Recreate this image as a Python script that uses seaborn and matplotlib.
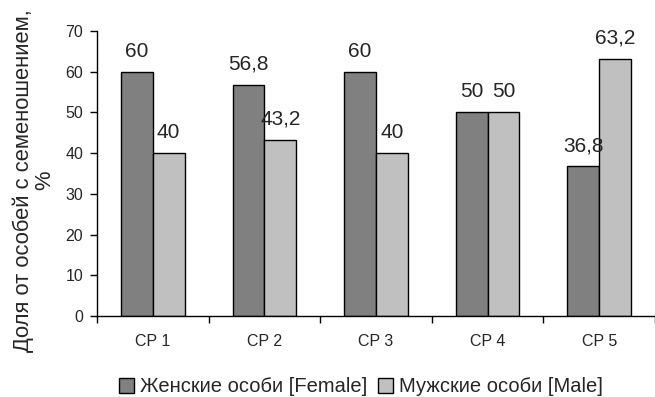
import pandas as pd
import seaborn as sns
import matplotlib.pyplot as plt
from matplotlib.ticker import FixedLocator

# data
plots = ['CP 1', 'CP 2', 'CP 3', 'CP 4', 'CP 5']
female = [60, 56.8, 60, 50, 36.8]
male = [40, 43.2, 40, 50, 63.2]
series = ['Женские особи [Female]', 'Мужские особи [Male]']
colors = ['#808080', '#C0C0C0']

df = pd.DataFrame({
    'plot': plots * 2,
    'share': female + male,
    'sex': [series[0]] * len(plots) + [series[1]] * len(plots),
})

sns.set_style('ticks')
plt.rcParams['font.family'] = ['Liberation Sans', 'DejaVu Sans']

fig = plt.figure(figsize=(6.55, 3.97), dpi=100)
ax = fig.add_axes([0.148, 0.204, 0.852, 0.718])

sns.barplot(data=df, x='plot', y='share', hue='sex', palette=colors,
            width=0.57, gap=0, edgecolor='black', linewidth=1,
            errorbar=None, ax=ax, legend=True)

# value labels, decimal comma as in the original
for cont in ax.containers:
    labels = [f'{v:g}'.replace('.', ',') for v in cont.datavalues]
    ax.bar_label(cont, labels=labels, padding=8, fontsize=15)

ax.set_ylim(0, 70)
ax.set_yticks(range(0, 71, 10))
ax.set_xlim(-0.5, 4.5)
ax.set_xlabel('')
ax.set_ylabel('Доля от особей с семеношением,\n%', fontsize=15.8, linespacing=1.05)
ax.yaxis.set_label_coords(-0.074, 0.475)
ax.tick_params(axis='y', labelsize=11.5, length=5, width=1, color='black', pad=5)
ax.tick_params(axis='x', which='major', labelsize=11.5, length=0, pad=13)
ax.xaxis.set_minor_locator(FixedLocator([i - 0.5 for i in range(len(plots) + 1)]))
ax.tick_params(axis='x', which='minor', length=5, width=1, color='black')
for side in ['top', 'right']:
    ax.spines[side].set_visible(False)
for side in ['left', 'bottom']:
    ax.spines[side].set_color('black')
    ax.spines[side].set_linewidth(1)

handles, labels = ax.get_legend_handles_labels()
ax.get_legend().remove()
fig.legend(handles, labels, loc='center', bbox_to_anchor=(361 / 655, 1 - 387 / 397),
           ncol=2, frameon=False, fontsize=14.5, handlelength=0.75, handleheight=0.75,
           handletextpad=0.3, columnspacing=0.5, borderpad=0)

fig.savefig('out.png', dpi=100)
